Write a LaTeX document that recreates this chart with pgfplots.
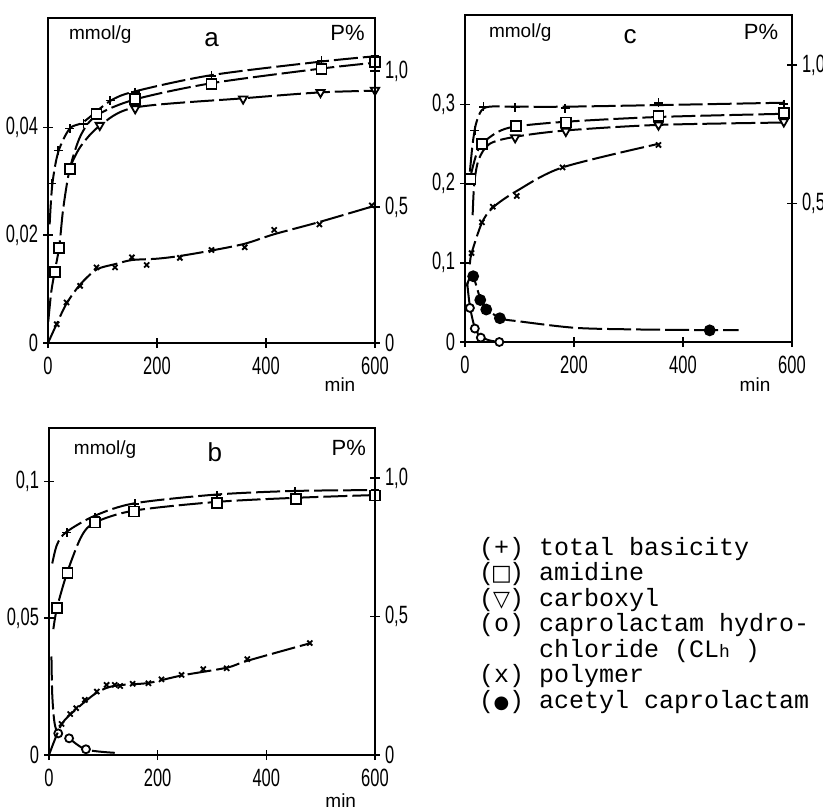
\documentclass[border=0pt]{standalone}
\usepackage{fontspec}
\setmainfont{Liberation Sans}
\newfontfamily\tickfont[FakeStretch=0.66]{Liberation Sans}
\newfontfamily\monofont{Liberation Mono}
\newfontfamily\symfont{DejaVu Sans}
\usepackage{pgfplots}
\pgfplotsset{compat=1.18}

\newcommand\legfont{\monofont\fontsize{12.5}{14}\selectfont}
\newcommand\sy[2]{\makebox[0.6em]{\symfont\fontsize{#2}{#2}\selectfont #1}}

\tikzset{
  lbl/.style={font=\fontsize{9.5}{11}\selectfont},
  pct/.style={font=\fontsize{11}{12}\selectfont},
  ltr/.style={font=\fontsize{13}{14}\selectfont},
}
\pgfplotsset{
  base/.style={scale only axis, anchor=south west, xmin=0, xmax=600, ymin=0,
    tick align=center, major tick length=5pt, clip=false,
    scaled ticks=false,
    axis line style={line width=0.8pt, -}, every tick/.style={line width=0.8pt, black},
    tick label style={font=\tickfont\fontsize{12.5}{13}\selectfont},
    /pgf/number format/assume math mode=true},
  leftax/.style={base, tick pos=left, xtick={0,200,400,600}, xticklabels={0,200,400,600},
    xticklabel style={yshift=-1pt}, yticklabel style={xshift=1pt}},
  rightax/.style={base, axis x line=none, axis y line*=right, ytick pos=right,
    ytick={0,0.5,1}, yticklabels={0,{0,5},{1,0}}, yticklabel style={xshift=-1pt}},
  crv/.style={no markers, line width=1pt, black, smooth, dash pattern=on 12pt off 2.5pt},
  mk/.style={only marks, black, line width=0.9pt, mark options={solid, fill=white}},
  mplus/.style={mk, mark=+, mark size=2.2pt},
  msq/.style={mk, mark=square*, mark size=2.5pt},
  mtri/.style={mk, mark=triangle*, mark size=2.4pt, mark options={solid, fill=white, rotate=180}},
  mcirc/.style={mk, mark=*, mark size=2pt},
  mdot/.style={mk, mark=*, mark size=2.5pt, mark options={solid, fill=black}},
  mx/.style={mk, mark=x, mark size=1.8pt},
}

\begin{document}
\begin{tikzpicture}

% ---------------- panel a ----------------
\begin{axis}[leftax, at={(24pt,233.5pt)}, width=163.5pt, height=162.5pt, ymax=0.0603,
  ytick={0,0.02,0.04}, yticklabels={0,{0,02},{0,04}}]
\addplot[crv] coordinates {(3,0.022) (8,0.0295) (19,0.0355) (40,0.0398) (65,0.041) (114,0.0449) (160,0.0467) (300,0.0497) (500,0.0522) (600,0.0532)};
\addplot[crv] coordinates {(0.5,0.004) (6,0.0095) (12.8,0.0135) (20.8,0.018) (28,0.025) (40,0.0323) (60,0.0385) (89,0.0422) (160,0.0452) (300,0.0482) (500,0.0509) (600,0.052)};
\addplot[crv] coordinates {(42,0.033) (60,0.0365) (95,0.0403) (160,0.0437) (358,0.0454) (500,0.0465) (600,0.0468)};
\addplot[mplus] coordinates {(7,0.0296) (19,0.0357) (40,0.0398) (65,0.0407) (114,0.045) (160,0.0465) (300,0.0496) (502,0.0524) (600,0.0533)};
\addplot[msq] coordinates {(12.8,0.0132) (20.8,0.0177) (40,0.0323) (89,0.0425) (160,0.0453) (300,0.0481) (502,0.0509) (600,0.0521)};
\addplot[mtri] coordinates {(95,0.0404) (160,0.0435) (358,0.0453) (500,0.0465) (600,0.0469)};
\node[lbl, anchor=west] at (rel axis cs:0.043,0.948) {mmol/g};
\node[ltr] at (rel axis cs:0.50,0.932) {a};
\node[pct, anchor=east] at (rel axis cs:0.99,0.954) {P\%};
\node[lbl] at (rel axis cs:0.893,0) [yshift=-21pt] {min};
\end{axis}
\begin{axis}[rightax, at={(24pt,233.5pt)}, width=163.5pt, height=162.5pt, ymax=1.195]
\addplot[crv] coordinates {(0,0) (16,0.07) (34,0.145) (59,0.215) (89,0.27) (123,0.29) (154,0.305) (200,0.31) (242,0.32) (300,0.34) (361,0.365) (415,0.4) (498,0.445) (600,0.505)};
\addplot[mx] coordinates {(16,0.069) (34,0.149) (59,0.21) (89,0.278) (123,0.278) (154,0.315) (181,0.287) (242,0.313) (300,0.342) (361,0.352) (415,0.416) (498,0.436) (594,0.506)};
\end{axis}

% ---------------- panel c ----------------
\begin{axis}[leftax, at={(232.5pt,234pt)}, width=163.5pt, height=163.5pt, ymax=0.4127,
  ytick={0,0.1,0.2,0.3}, yticklabels={0,{0,1},{0,2},{0,3}}]
\addplot[crv] coordinates {(9,0.215) (14,0.25) (20,0.275) (30,0.292) (45,0.297) (92,0.297) (184,0.297) (355,0.299) (585,0.302)};
\addplot[crv] coordinates {(9,0.206) (20,0.235) (31,0.25) (60,0.265) (93,0.272) (185,0.278) (355,0.284) (585,0.288)};
\addplot[crv] coordinates {(14,0.16) (17,0.2) (25,0.23) (45,0.25) (92,0.259) (185,0.267) (355,0.274) (585,0.277)};
\addplot[crv] coordinates {(3,0.07) (8,0.08) (15,0.083) (28,0.055) (39,0.043) (64,0.03) (100,0.026) (200,0.018) (300,0.016) (449,0.015) (502,0.015)};
\addplot[crv] coordinates {(4,0.075) (9,0.045) (18,0.018) (29,0.007) (45,0.002) (63,0)};
\addplot[mplus] coordinates {(18,0.267) (34,0.297) (92,0.296) (184,0.295) (355,0.302) (585,0.300)};
\addplot[msq] coordinates {(10,0.206) (31,0.250) (93,0.273) (185,0.277) (355,0.285) (585,0.289)};
\addplot[mtri] coordinates {(92,0.258) (185,0.266) (355,0.274) (585,0.278)};
\addplot[mdot] coordinates {(15,0.083) (28,0.053) (39,0.041) (64,0.030) (449,0.0147)};
\addplot[mcirc] coordinates {(9,0.043) (18,0.017) (29,0.0055) (63,0)};
\node[lbl, anchor=west] at (rel axis cs:0.052,0.945) {mmol/g};
\node[ltr] at (rel axis cs:0.505,0.933) {c};
\node[pct, anchor=east] at (rel axis cs:0.979,0.948) {P\%};
\node[lbl] at (rel axis cs:0.887,0) [yshift=-21.5pt] {min};
\end{axis}
\begin{axis}[rightax, at={(232.5pt,234pt)}, width=163.5pt, height=163.5pt, ymax=1.18,
  ytick={0.5,1}, yticklabels={{0,5},{1,0}}]
\addplot[crv] coordinates {(9,0.28) (12,0.32) (31,0.43) (51,0.485) (95,0.545) (179,0.63) (355,0.715)};
\addplot[mx] coordinates {(12,0.321) (31,0.432) (51,0.488) (95,0.527) (179,0.63) (355,0.711)};
\end{axis}

% ---------------- panel b ----------------
\begin{axis}[leftax, at={(24.5pt,27.5pt)}, width=163pt, height=163.5pt, ymax=0.1195,
  ytick={0,0.05,0.1}, yticklabels={0,{0,05},{0,1}}]
\addplot[crv] coordinates {(6,0.070) (15,0.077) (32,0.0815) (85,0.0875) (158,0.092) (309,0.0952) (453,0.0965) (600,0.0968)};
\addplot[crv] coordinates {(8,0.046) (15,0.054) (34,0.067) (60,0.08) (85,0.085) (156,0.0893) (309,0.0925) (455,0.094) (600,0.095)};
\addplot[crv] coordinates {(4.5,0.036) (6,0.022) (10,0.012) (17,0.008) (37,0.006) (68,0.002) (121,0.0008)};
\addplot[mplus] coordinates {(32.5,0.0813) (85,0.087) (158,0.0918) (309,0.0948) (453,0.0963) (600,0.097)};
\addplot[msq] coordinates {(15,0.0537) (34,0.0665) (85,0.085) (156,0.089) (309,0.092) (455,0.0935) (600,0.0948)};
\addplot[mcirc] coordinates {(17,0.0079) (37,0.0061) (68,0.0021)};
\node[lbl, anchor=west] at (rel axis cs:0.055,0.933) {mmol/g};
\node[ltr] at (rel axis cs:0.509,0.927) {b};
\node[pct, anchor=east] at (rel axis cs:0.994,0.939) {P\%};
\node[lbl] at (rel axis cs:0.895,0) [yshift=-23pt] {min};
\end{axis}
\begin{axis}[rightax, at={(24.5pt,27.5pt)}, width=163pt, height=163.5pt, ymax=1.18]
\addplot[crv] coordinates {(0,0) (23,0.11) (50,0.165) (88,0.225) (121,0.25) (183,0.26) (244,0.287) (327,0.315) (365,0.34) (480,0.403)};
\addplot[mx] coordinates {(23,0.112) (39,0.148) (50,0.169) (66,0.199) (88,0.229) (106,0.253) (121,0.253) (131,0.249) (154,0.257) (183,0.259) (207,0.273) (244,0.289) (284,0.310) (327,0.313) (365,0.346) (480,0.404)};
\end{axis}

% ---------------- legend ----------------
\node[anchor=base west, font=\legfont] at (236pt,127.5pt) {(+) total basicity};
\node[anchor=base west, font=\legfont] at (236pt,114.75pt) {(\sy{□}{11}) amidine};
\node[anchor=base west, font=\legfont] at (236pt,102pt) {(\sy{▽}{11}) carboxyl};
\node[anchor=base west, font=\legfont] at (236pt,89.25pt) {(o) caprolactam hydro-};
\node[anchor=base west, font=\legfont] at (236pt,76.5pt) {\phantom{(o) }chloride (CL{\fontsize{9}{9}\selectfont h} )};
\node[anchor=base west, font=\legfont] at (236pt,63.75pt) {(x) polymer};
\node[anchor=base west, font=\legfont] at (236pt,51pt) {(\sy{●}{9}) acetyl caprolactam};

\pgfresetboundingbox
\useasboundingbox (0,0) rectangle (411.5pt,405pt);
\end{tikzpicture}
\end{document}
